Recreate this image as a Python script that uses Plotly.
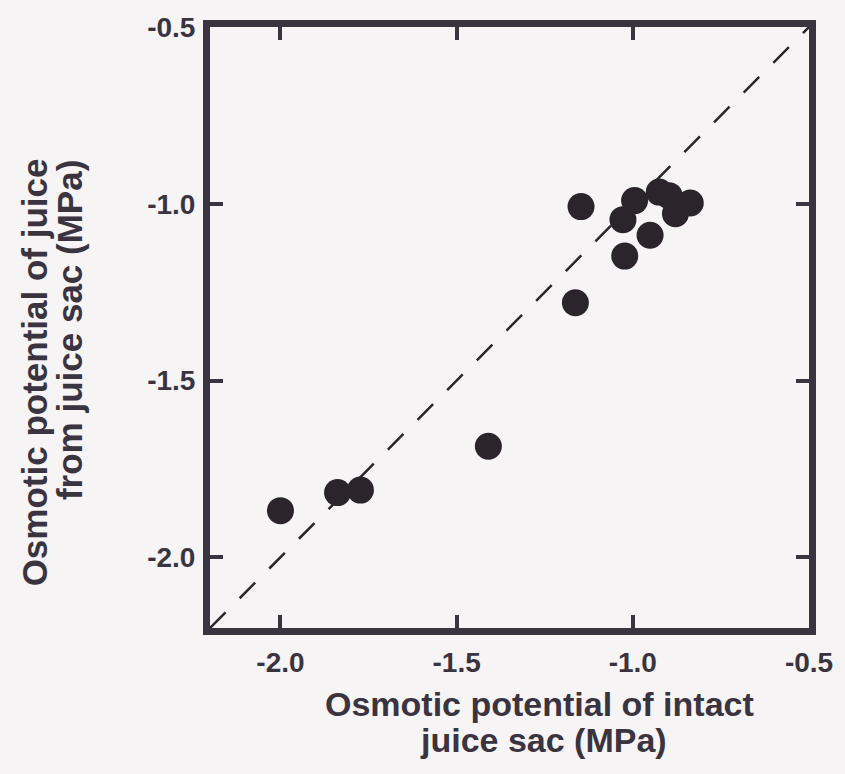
import plotly.graph_objects as go

# Data (MPa)
intact_sac = [-2.00, -1.838, -1.773, -1.410, -1.163, -1.147, -1.023, -1.028,
              -0.995, -0.951, -0.925, -0.897, -0.879, -0.837]
juice_from_sac = [-1.868, -1.817, -1.810, -1.686, -1.280, -1.008, -1.148, -1.045,
                  -0.991, -1.089, -0.967, -0.977, -1.028, -0.998]
one_to_one = [-2.2, -0.5]
tick_vals = [-2.0, -1.5, -1.0, -0.5]
tick_text = ["<b>-2.0</b>", "<b>-1.5</b>", "<b>-1.0</b>", "<b>-0.5</b>"]
x_title_lines = ["Osmotic potential of intact", "juice sac (MPa)"]
y_title_lines = ["Osmotic potential of juice", "from juice sac (MPa)"]

INK = "#3a3340"
DOT = "#2b242b"
BG = "#f7f4f6"
FONT = "Liberation Sans, Arial, sans-serif"
W, H = 845, 774

fig = go.Figure()
fig.add_trace(go.Scatter(
    x=one_to_one, y=one_to_one, mode="lines",
    line=dict(color=DOT, width=2.5, dash="22px,20px"),
    hoverinfo="skip", showlegend=False))
fig.add_trace(go.Scatter(
    x=intact_sac, y=juice_from_sac, mode="markers",
    marker=dict(size=27, color=DOT, line=dict(width=0)),
    showlegend=False))

axis_common = dict(
    range=[-2.2, -0.5], tickvals=tick_vals, ticktext=tick_text,
    showgrid=False, zeroline=False,
    showline=True, linecolor=INK, linewidth=7, mirror="ticks",
    ticks="inside", ticklen=13, tickwidth=4, tickcolor=INK,
    tickfont=dict(family=FONT, size=28, color=INK),
)
fig.update_xaxes(**axis_common, ticklabelstandoff=3)
fig.update_yaxes(**axis_common, ticklabelstandoff=2)

margin = dict(l=210, r=25, t=22, b=146)
pw = W - margin["l"] - margin["r"]
ph = H - margin["t"] - margin["b"]


def px_to_paper(px, py):
    return (px - margin["l"]) / pw, (H - margin["b"] - py) / ph


annotations = []
for text, (cx, cy) in zip(x_title_lines, [(546, 705), (550, 741)]):
    ax, ay = px_to_paper(cx, cy)
    annotations.append(dict(
        text="<b>%s</b>" % text, xref="paper", yref="paper", x=ax, y=ay,
        xanchor="center", yanchor="middle", showarrow=False,
        font=dict(family=FONT, size=34, color=INK)))
for text, (cx, cy) in zip(y_title_lines, [(31, 370), (67, 328)]):
    ax, ay = px_to_paper(cx, cy)
    annotations.append(dict(
        text="<b>%s</b>" % text, xref="paper", yref="paper", x=ax, y=ay,
        xanchor="center", yanchor="middle", textangle=-90, showarrow=False,
        font=dict(family=FONT, size=35, color=INK)))

fig.update_layout(
    width=W, height=H,
    margin=margin,
    paper_bgcolor=BG, plot_bgcolor=BG,
    font=dict(family=FONT, color=INK),
    annotations=annotations,
)

fig.write_html("out.html")
